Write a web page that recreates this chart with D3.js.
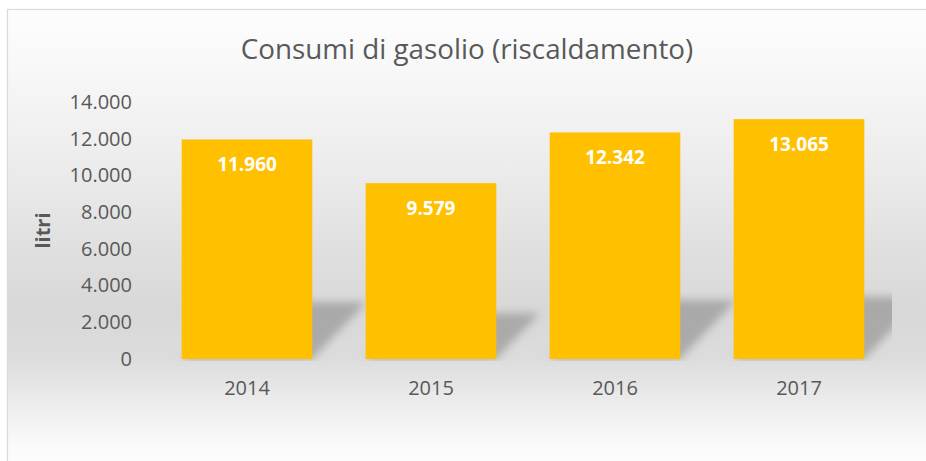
<!DOCTYPE html>
<html>
<head>
<meta charset="utf-8">
<script src="https://cdn.jsdelivr.net/npm/d3@7"></script>
<style>
  body { margin: 0; background: #ffffff; }
  svg { display: block; }
</style>
</head>
<body>
<svg id="drawing_region"></svg>
<script>
const years = ["2014", "2015", "2016", "2017"];
const litri = [11960, 9579, 12342, 13065];
const y_ticks = [0, 2000, 4000, 6000, 8000, 10000, 12000, 14000];
const title_text = "Consumi di gasolio (riscaldamento)";
const y_label = "litri";

const it = d3.formatLocale({ decimal: ",", thousands: ".", grouping: [3], currency: ["€", ""] });
const fmt = it.format(",d");

class BarChart {

    constructor( config, data ) {
        this.config = config;
        this.data = data;
        this.init();
    }

    init() {
        let self = this;

        self.svg = d3.select( self.config.parent )
            .attr('width', self.config.width)
            .attr('height', self.config.height);

        const defs = self.svg.append('defs');

        // chart area background: white -> grey -> white
        const bg = defs.append('linearGradient')
            .attr('id', 'bg_grad')
            .attr('x1', 0).attr('y1', 0).attr('x2', 0).attr('y2', 1);
        [[0, '#fdfdfd'], [0.1, '#f9f9f9'], [0.3, '#eeeeee'], [0.52, '#dfdfdf'],
         [0.64, '#d8d8d8'], [0.74, '#dcdcdc'], [0.83, '#ebebeb'], [0.93, '#fafafa'], [1, '#ffffff']]
            .forEach( s => bg.append('stop').attr('offset', s[0]).attr('stop-color', s[1]) );

        defs.append('filter')
            .attr('id', 'blur')
            .attr('x', '-20%').attr('y', '-40%').attr('width', '140%').attr('height', '180%')
            .append('feGaussianBlur')
            .attr('stdDeviation', 4.5);

        const m = self.config.margin;
        self.plot = { left: m.left, right: self.config.width - m.right, top: m.top, bottom: self.config.height - m.bottom };

        defs.append('clipPath')
            .attr('id', 'plot_clip')
            .append('rect')
            .attr('x', self.plot.left)
            .attr('y', self.plot.top - 20)
            .attr('width', self.plot.right - self.plot.left + 1)
            .attr('height', self.plot.bottom - self.plot.top + 22);

        self.svg.append('rect')
            .attr('x', 7.5)
            .attr('y', 9.5)
            .attr('width', 940)
            .attr('height', 470)
            .attr('fill', 'url(#bg_grad)')
            .attr('stroke', '#d9d9d9')
            .attr('stroke-width', 1.2);

        self.xscale = d3.scaleBand()
            .domain( years )
            .range( [self.plot.left, self.plot.right] )
            .paddingInner( 0.29 )
            .paddingOuter( 0.145 );

        self.yscale = d3.scaleLinear()
            .domain( [0, 14000] )
            .range( [self.plot.bottom, self.plot.top] );

        self.svg.append('text')
            .text( title_text )
            .attr('x', 467)
            .attr('y', 59)
            .attr('text-anchor', 'middle')
            .attr('font-family', "'Open Sans', sans-serif")
            .attr('font-size', '27.8px')
            .attr('fill', '#595959');

        self.svg.append('text')
            .text( y_label )
            .attr('transform', `translate(50, ${(self.plot.top + self.plot.bottom) / 2}) rotate(-90)`)
            .attr('text-anchor', 'middle')
            .attr('font-family', "'Open Sans', sans-serif")
            .attr('font-weight', 'bold')
            .attr('font-size', '20px')
            .attr('fill', '#595959');

        self.shadow_group = self.svg.append('g')
            .attr('clip-path', 'url(#plot_clip)');
        self.bar_group = self.svg.append('g');
        self.xaxis_group = self.svg.append('g')
            .attr('transform', `translate(0, ${self.plot.bottom})`);
        self.yaxis_group = self.svg.append('g')
            .attr('transform', `translate(${self.plot.left}, 0)`);
    }

    render() {
        let self = this;
        const y0 = self.yscale(0);

        // perspective shadow behind each bar
        self.shadow_group.selectAll('polygon')
            .data( self.data )
            .join('polygon')
            .attr('points', d => {
                const x0 = self.xscale(d.year), x1 = x0 + self.xscale.bandwidth();
                const sh = (y0 - self.yscale(d.value)) * 0.26;
                const s = sh * 0.95;
                return [[x0, y0], [x1, y0], [x1 + s, y0 - sh], [x0 + s, y0 - sh]].join(' ');
            })
            .attr('fill', '#8a8a8a')
            .attr('fill-opacity', 0.6)
            .attr('filter', 'url(#blur)');

        self.bar_group.selectAll('rect')
            .data( self.data )
            .join('rect')
            .attr('x', d => self.xscale(d.year))
            .attr('y', d => self.yscale(d.value))
            .attr('width', self.xscale.bandwidth())
            .attr('height', d => y0 - self.yscale(d.value))
            .attr('fill', '#ffc000');

        self.bar_group.selectAll('text')
            .data( self.data )
            .join('text')
            .text( d => fmt(d.value) )
            .attr('x', d => self.xscale(d.year) + self.xscale.bandwidth() / 2)
            .attr('y', d => self.yscale(d.value) + 25)
            .attr('dy', '0.35em')
            .attr('text-anchor', 'middle')
            .attr('font-family', "'Open Sans', sans-serif")
            .attr('font-weight', 'bold')
            .attr('font-size', '19px')
            .attr('fill', '#ffffff');

        self.xaxis_group
            .call( d3.axisBottom( self.xscale ).tickSize(0).tickPadding(22) )
            .call( g => g.select('.domain').remove() )
            .selectAll('text')
            .attr('font-family', "'Open Sans', sans-serif")
            .attr('font-size', '20px')
            .attr('fill', '#595959');

        self.yaxis_group
            .call( d3.axisLeft( self.yscale ).tickValues( y_ticks ).tickFormat( fmt ).tickSize(0).tickPadding(23) )
            .call( g => g.select('.domain').remove() )
            .selectAll('text')
            .attr('font-family', "'Open Sans', sans-serif")
            .attr('font-size', '20px')
            .attr('fill', '#595959');
    }
}

const data = years.map( (y, i) => ({ year: y, value: litri[i] }) );

const chart = new BarChart({
    parent: '#drawing_region',
    width: 926,
    height: 461,
    margin: { top: 102, right: 35, bottom: 102, left: 155 }
}, data );
chart.render();
</script>
</body>
</html>
